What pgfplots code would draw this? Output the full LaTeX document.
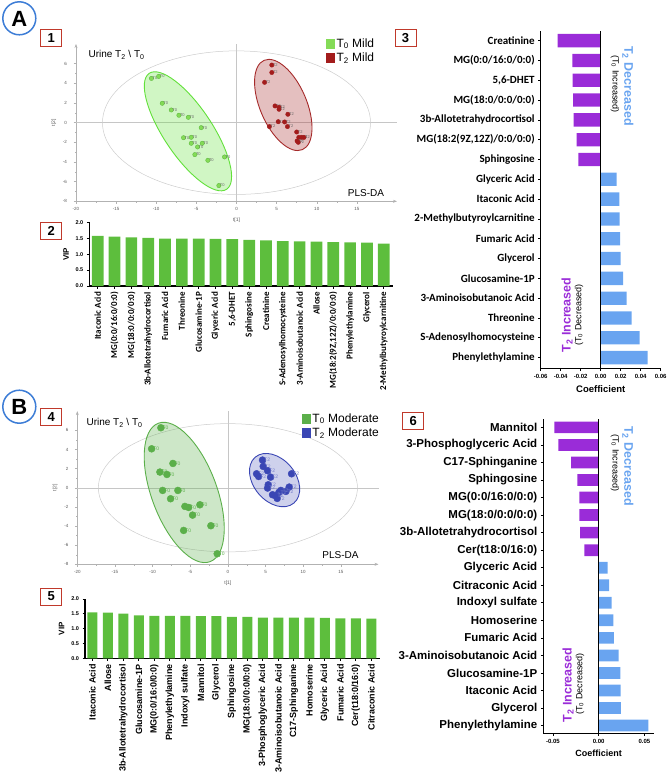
\documentclass[border=0pt]{standalone}
\usepackage{pgfplots}
\pgfplotsset{compat=1.18}
\usepackage{fontspec}
\setmainfont{Liberation Sans}
\newfontfamily\carlito{Carlito}
\usetikzlibrary{arrows.meta}
\newcommand{\fs}[1]{\fontsize{#1}{#1}\selectfont}
\definecolor{vipgreen}{HTML}{5DBE3D}
\definecolor{negpurple}{HTML}{9A2CD8}
\definecolor{posblue}{HTML}{69A4F0}
\definecolor{boxred}{HTML}{C0392B}
\definecolor{circblue}{HTML}{3D7DD6}
\definecolor{gAfill}{HTML}{84DB57}
\definecolor{gAedge}{HTML}{55B236}
\definecolor{gAline}{HTML}{62E03A}
\definecolor{rA}{HTML}{A31C1C}
\definecolor{rAline}{HTML}{A52A2A}
\definecolor{gB}{HTML}{5BAF4A}
\definecolor{bB}{HTML}{3A46B4}
\pgfplotsset{
  scat/.style={
    scale only axis, clip=false,
    xmin=-20, xmax=20, ymin=-8, ymax=8,
    axis lines=left,
    axis line style={gray!60, line width=0.5pt, -{Stealth[length=4pt,width=3pt]}},
    xtick={-20,-15,-10,-5,0,5,10,15}, ytick={-8,-6,-4,-2,0,2,4,6},
    minor x tick num=1, minor y tick num=1,
    tick style={gray!60, line width=0.4pt},
    major tick length=2.5pt, minor tick length=1.2pt, tick align=outside,
    tick label style={font=\fs{4.5}, text=gray!70!black},
    yticklabel style={xshift=-3pt},
    /pgf/number format/assume math mode=true,
    xlabel={t[1]}, ylabel={t[2]},
    label style={font=\fs{5}, text=gray!70!black},
    legend cell align=left,
  },
  vip/.style={
    scale only axis, ybar, ymin=0, ymax=2, ytick={0,0.5,1,1.5,2},
    axis lines=left, axis line style={-, line width=1.1pt},
    tick style={black, line width=0.7pt}, major tick length=2.5pt, tick align=outside,
    yticklabel style={font=\bfseries\fs{5.5}},
    y tick label style={/pgf/number format/fixed, /pgf/number format/fixed zerofill, /pgf/number format/precision=1},
    /pgf/number format/assume math mode=true,
    ylabel={VIP}, ylabel style={font=\bfseries\fs{8}},
    xticklabel style={rotate=90, anchor=east},
  },
  coef/.style={
    scale only axis, xbar, scaled x ticks=false,
    axis lines=left, axis line style={-, line width=1.1pt},
    tick style={black, line width=0.7pt}, major tick length=2.5pt, tick align=outside,
    xticklabel style={font=\bfseries\fs{6}},
    x tick label style={/pgf/number format/fixed, /pgf/number format/fixed zerofill, /pgf/number format/precision=2},
    /pgf/number format/assume math mode=true,
    xlabel={Coefficient}, xlabel style={font=\bfseries\fs{9.5}},
  },
}
\begin{document}
\begin{tikzpicture}
\path[use as bounding box] (0pt,0pt) rectangle (669pt,-773pt);

% ---------------- Panel 1 ----------------
\begin{axis}[scat, at={(76pt,-201.3pt)}, anchor=south west, width=321pt, height=157.3pt,
  legend style={at={(axis description cs:0.777,1.05)}, anchor=north west, draw=none, fill=none,
    font=\fs{12}, inner sep=0pt, row sep=0pt}]
\addlegendimage{legend image code/.code={\fill[gAfill] (0pt,-4.5pt) rectangle (8.5pt,4.5pt);}}
\addlegendimage{legend image code/.code={\fill[rA] (0pt,-4.5pt) rectangle (8.5pt,4.5pt);}}
\draw[gray!45, line width=0.5pt] (axis cs:-20,0) -- (axis cs:20,0);
\draw[gray!45, line width=0.5pt] (axis cs:0,-8) -- (axis cs:0,8);
\draw[gray!40, line width=0.5pt] (axis cs:0,0) ellipse [x radius=16.7, y radius=7.3];
\draw[gAline, line width=0.9pt, fill=gAline, fill opacity=0.3, rotate around={-56.3:(axis cs:-6.05,-0.88)}]
  (axis cs:-6.05,-0.88) ellipse [x radius=69.7pt, y radius=24.3pt];
\draw[rAline, line width=0.9pt, fill=rAline, fill opacity=0.3, rotate around={-66.8:(axis cs:5.83,1.80)}]
  (axis cs:5.83,1.80) ellipse [x radius=48.6pt, y radius=23.3pt];
\addplot[only marks, mark=*, mark size=2.2pt, mark options={fill=gAfill, draw=gAedge, line width=0.3pt},
  nodes near coords={T0}, nodes near coords style={anchor=west, font=\fs{4}, text=gray!80!black, inner sep=1pt}]
  coordinates {(-10.6,4.5) (-9.7,4.7) (-9.25,1.97) (-8.13,1.29) (-7.18,0.75) (-6.0,0.54) (-4.4,-0.51)
  (-6.6,-1.53) (-5.64,-1.49) (-5.64,-2.1) (-4.27,-2.1) (-4.85,-2.47) (-5.19,-3.25) (-3.57,-3.83)
  (-1.49,-3.49) (-2.2,-6.4)};
\addplot[only marks, mark=*, mark size=2.2pt, mark options={fill=rA, draw=rA},
  nodes near coords={T2}, nodes near coords style={anchor=west, font=\fs{4}, text=gray!80!black, inner sep=1pt}]
  coordinates {(4.4,5.86) (4.4,5.1) (3.5,4.1) (4.8,1.7) (5.3,1.56) (5.3,1.36) (6.4,0.85) (5.2,0.1)
  (6.0,0.07) (6.35,-0.4) (4.1,-0.4) (7.5,-0.95) (7.76,-1.5) (8.1,-1.5) (7.55,-1.86) (7.7,-2.0) (8.4,-1.5)};
\legend{T\textsubscript{0} Mild, T\textsubscript{2} Mild}
\end{axis}
\node[anchor=west, font=\fs{10}] at (85pt,-55pt) {Urine T\textsubscript{2} \textbackslash{} T\textsubscript{0}};
\node[font=\fs{10}] at (366pt,-193pt) {PLS-DA};

% ---------------- Panel 2 ----------------
\begin{axis}[vip, at={(89.3pt,-286pt)}, anchor=south west, width=303.4pt, height=63.7pt,
  xmin=-0.5, xmax=17.53, bar width=11.7pt, xtick={0,...,17},
  xticklabel style={font=\carlito\bfseries\fs{9}},
  xticklabels={Itaconic Acid, MG(0:0/16:0/0:0), MG(18:0/0:0/0:0), 3b-Allotetrahydrocortisol, Fumaric Acid,
  Threonine, Glucosamine-1P, Glyceric Acid, {5,6-DHET}, Sphingosine, Creatinine, S-Adenosylhomocysteine,
  3-Aminoisobutanoic Acid, Allose, {MG(18:2(9Z,12Z)/0:0/0:0)}, Phenylethylamine, Glycerol, 2-Methylbutyroylcarnitine}]
\addplot[fill=vipgreen, draw=none] coordinates {(0,1.57) (1,1.55) (2,1.53) (3,1.51) (4,1.49) (5,1.49)
 (6,1.49) (7,1.48) (8,1.47) (9,1.45) (10,1.43) (11,1.41) (12,1.40) (13,1.39) (14,1.38) (15,1.37) (16,1.36) (17,1.33)};
\end{axis}

% ---------------- Panel 3 ----------------
\begin{axis}[coef, at={(540.7pt,-368.3pt)}, anchor=south west, width=120pt, height=337.6pt,
  xmin=-0.06, xmax=0.06, ymin=-0.54, ymax=16.5, bar width=13.3pt,
  xtick={-0.06,-0.04,-0.02,0,0.02,0.04,0.06}, ytick={0,...,16},
  yticklabel style={font=\carlito\bfseries\fs{11}},
  yticklabels={Phenylethylamine, S-Adenosylhomocysteine, Threonine, 3-Aminoisobutanoic Acid, Glucosamine-1P,
  Glycerol, Fumaric Acid, 2-Methylbutyroylcarnitine, Itaconic Acid, Glyceric Acid, Sphingosine,
  {MG(18:2(9Z,12Z)/0:0/0:0)}, 3b-Allotetrahydrocortisol, MG(18:0/0:0/0:0), {5,6-DHET}, MG(0:0/16:0/0:0), Creatinine}]
\addplot[fill=negpurple, draw=none, bar shift=0pt] coordinates {(-0.043,16) (-0.0284,15) (-0.028,14)
 (-0.0277,13) (-0.027,12) (-0.024,11) (-0.0223,10)};
\addplot[fill=posblue, draw=none, bar shift=0pt] coordinates {(0.016,9) (0.0187,8) (0.019,7) (0.0193,6)
 (0.020,5) (0.0223,4) (0.026,3) (0.031,2) (0.039,1) (0.047,0)};
\draw[line width=1pt] (axis cs:0,-0.54) -- (axis cs:0,16.5);
\end{axis}
\node[rotate=-90, font=\bfseries\fs{12.5}, text=posblue] at (628pt,-86pt) {T\textsubscript{2} Decreased};
\node[rotate=-90, font=\fs{9}] at (615pt,-84pt) {(T\textsubscript{0} Increased)};
\node[rotate=90, font=\bfseries\fs{12.5}, text=negpurple] at (567pt,-315pt) {T\textsubscript{2} Increased};
\node[rotate=90, font=\fs{9}] at (579pt,-315pt) {(T\textsubscript{0} Decreased)};

% ---------------- Panel 4 ----------------
\begin{axis}[scat, at={(77.3pt,-564.3pt)}, anchor=south west, width=301.2pt, height=153.1pt,
  legend style={at={(axis description cs:0.744,1.0)}, anchor=north west, draw=none, fill=none,
    font=\fs{12}, inner sep=0pt, row sep=0pt}]
\addlegendimage{legend image code/.code={\fill[gB] (0pt,-4.5pt) rectangle (8.5pt,4.5pt);}}
\addlegendimage{legend image code/.code={\fill[bB] (0pt,-4.5pt) rectangle (8.5pt,4.5pt);}}
\draw[gray!45, line width=0.5pt] (axis cs:-20,0) -- (axis cs:20,0);
\draw[gray!45, line width=0.5pt] (axis cs:0,-8) -- (axis cs:0,8);
\draw[gray!40, line width=0.5pt] (axis cs:0,0) ellipse [x radius=17.2, y radius=6.7];
\draw[gB, line width=0.9pt, fill=gB, fill opacity=0.3, rotate around={-69.5:(axis cs:-5.8,-0.49)}]
  (axis cs:-5.8,-0.49) ellipse [x radius=73.9pt, y radius=32.6pt];
\draw[bB, line width=0.9pt, fill=bB, fill opacity=0.25, rotate around={-50:(axis cs:6.2,0.8)}]
  (axis cs:6.2,0.8) ellipse [x radius=30pt, y radius=21pt];
\addplot[only marks, mark=*, mark size=3.5pt, mark options={fill=gB, draw=gB},
  nodes near coords={T0}, nodes near coords style={anchor=west, font=\fs{5}, text=gB, inner sep=1.5pt}]
  coordinates {(-8.9,6.27) (-10.13,4.07) (-7.3,2.54) (-9.03,1.64) (-8.1,1.39) (-8.67,-0.28) (-6.64,-0.28)
  (-7.61,-1.15) (-5.71,-1.95) (-5.22,-2.06) (-3.72,-1.78) (-4.69,-2.86) (-2.26,-3.97) (-5.88,-4.46) (-1.42,-6.9)};
\addplot[only marks, mark=*, mark size=3.5pt, mark options={fill=bB, draw=bB},
  nodes near coords={T2}, nodes near coords style={anchor=west, font=\fs{5}, text=bB!70, inner sep=1.5pt}]
  coordinates {(4.6,2.89) (4.69,2.23) (5.27,1.78) (3.81,1.46) (4.08,1.18) (5.67,1.11) (8.46,1.46) (5.36,0.31)
  (5.27,-0.03) (8.14,0.07) (7.7,-0.38) (7.04,-0.28) (6.77,-0.49) (5.93,-0.73) (6.55,-1.11) (6.37,-0.84)};
\legend{T\textsubscript{0} Moderate, T\textsubscript{2} Moderate}
\end{axis}
\node[anchor=west, font=\fs{10}] at (83pt,-423pt) {Urine T\textsubscript{2} \textbackslash{} T\textsubscript{0}};
\node[font=\fs{10}] at (340.5pt,-555pt) {PLS-DA};

% ---------------- Panel 5 ----------------
\begin{axis}[vip, at={(85pt,-658.3pt)}, anchor=south west, width=295pt, height=59.3pt,
  xmin=-0.47, xmax=18.56, bar width=10pt, xtick={0,...,18},
  xticklabel style={font=\bfseries\fs{9}},
  xticklabels={Itaconic Acid, Allose, 3b-Allotetrahydrocortisol, Glucosamine-1P, MG(0:0/16:0/0:0),
  Phenylethylamine, Indoxyl sulfate, Mannitol, Glycerol, Sphingosine, MG(18:0/0:0/0:0), 3-Phosphoglyceric Acid,
  3-Aminoisobutanoic Acid, C17-Sphinganine, Homoserine, Glyceric Acid, Fumaric Acid, Cer(t18:0/16:0), Citraconic Acid}]
\addplot[fill=vipgreen, draw=none] coordinates {(0,1.55) (1,1.54) (2,1.51) (3,1.45) (4,1.43) (5,1.43)
 (6,1.43) (7,1.42) (8,1.42) (9,1.40) (10,1.40) (11,1.37) (12,1.37) (13,1.37) (14,1.37) (15,1.36) (16,1.35) (17,1.35) (18,1.34)};
\end{axis}

% ---------------- Panel 6 ----------------
\begin{axis}[coef, at={(543.3pt,-733.3pt)}, anchor=south west, width=110.8pt, height=314pt,
  xmin=-0.0605, xmax=0.0605, ymin=-0.44, ymax=17.46, bar width=11.7pt,
  xtick={-0.05,0,0.05}, ytick={0,...,17},
  xlabel style={font=\bfseries\fs{9}},
  yticklabel style={font=\bfseries\fs{11.5}},
  yticklabels={Phenylethylamine, Glycerol, Itaconic Acid, Glucosamine-1P, 3-Aminoisobutanoic Acid, Fumaric Acid,
  Homoserine, Indoxyl sulfate, Citraconic Acid, Glyceric Acid, Cer(t18:0/16:0), 3b-Allotetrahydrocortisol,
  MG(18:0/0:0/0:0), MG(0:0/16:0/0:0), Sphingosine, C17-Sphinganine, 3-Phosphoglyceric Acid, Mannitol}]
\addplot[fill=negpurple, draw=none, bar shift=0pt] coordinates {(-0.0485,17) (-0.044,16) (-0.030,15)
 (-0.0233,14) (-0.021,13) (-0.021,12) (-0.0204,11) (-0.0157,10)};
\addplot[fill=posblue, draw=none, bar shift=0pt] coordinates {(0.0098,9) (0.0113,8) (0.0142,7) (0.016,6)
 (0.0167,5) (0.0218,4) (0.0236,3) (0.024,2) (0.0241,1) (0.0542,0)};
\draw[line width=1pt] (axis cs:0,-0.44) -- (axis cs:0,17.46);
\end{axis}
\node[rotate=-90, font=\bfseries\fs{12.5}, text=posblue] at (628pt,-466pt) {T\textsubscript{2} Decreased};
\node[rotate=-90, font=\fs{9}] at (615pt,-463pt) {(T\textsubscript{0} Increased)};
\node[rotate=90, font=\bfseries\fs{12.5}, text=negpurple] at (568pt,-685pt) {T\textsubscript{2} Increased};
\node[rotate=90, font=\fs{9}] at (580pt,-684pt) {(T\textsubscript{0} Decreased)};

% ---------------- Labels ----------------
\draw[circblue, line width=1.5pt] (19.3pt,-18.3pt) circle (16.5pt);
\node[font=\bfseries\fs{22}] at (19.3pt,-18.8pt) {A};
\draw[circblue, line width=1.5pt] (19.3pt,-406.7pt) circle (16.5pt);
\node[font=\bfseries\fs{22}] at (19.3pt,-407.2pt) {B};
\tikzset{numbox/.style={draw=boxred, line width=1pt, minimum width=21pt, minimum height=17pt, inner sep=0pt, font=\bfseries\fs{13}}}
\node[numbox] at (51.2pt,-38.3pt) {1};
\node[numbox] at (51.2pt,-231pt) {2};
\node[numbox] at (405.5pt,-38pt) {3};
\node[numbox] at (51.2pt,-417pt) {4};
\node[numbox] at (51.2pt,-596.5pt) {5};
\node[numbox] at (413.3pt,-421.3pt) {6};
\end{tikzpicture}
\end{document}
